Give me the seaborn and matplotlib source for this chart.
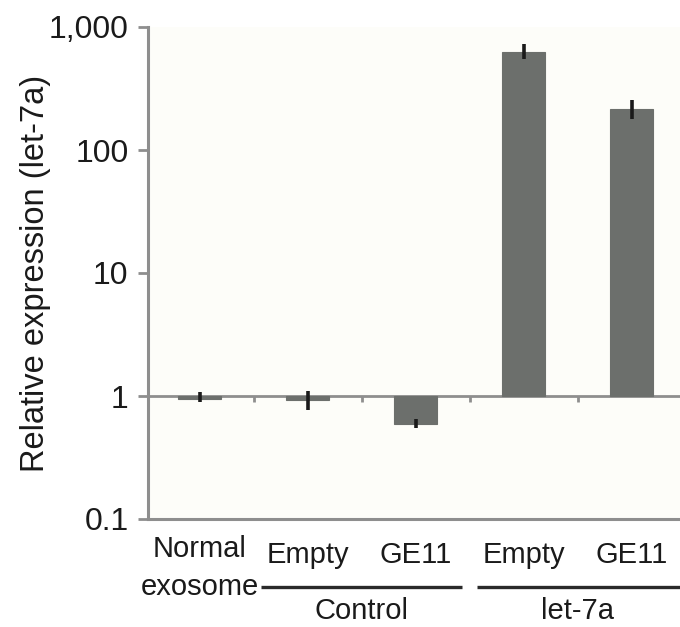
import numpy as np
import pandas as pd
import matplotlib
matplotlib.use("Agg")
import matplotlib.pyplot as plt
import matplotlib.transforms as mtransforms
import seaborn as sns

# ---- data ----
keys = ["Normal exosome", "Control Empty", "Control GE11", "let-7a Empty", "let-7a GE11"]
tick_labels = ["Normal\nexosome", "Empty", "GE11", "Empty", "GE11"]
groups = ["Control", "let-7a"]
group_members = [[1, 2], [3, 4]]
values = [0.95, 0.93, 0.59, 630, 216]
err_low = [0.89, 0.77, 0.55, 545, 177]
err_high = [1.08, 1.10, 0.65, 721, 253]
ytick_values = [0.1, 1, 10, 100, 1000]
ytick_labels = ["0.1", "1", "10", "100", "1,000"]
ylabel = "Relative expression (let-7a)"

sns.set_theme(style="white")
plt.rcParams["font.family"] = ["Liberation Sans", "DejaVu Sans"]

BAR = "#6c6f6c"
AXC = "#8e8e8e"
TXT = "#1a1a1a"

fig = plt.figure(figsize=(6.8, 6.27), dpi=100)
fig.patch.set_facecolor("white")
ax = fig.add_axes([148 / 680, 1 - 519 / 627, (680 - 148) / 680, (519 - 27) / 627])
ax.set_facecolor("#fdfdf9")

logv = np.log10(values)
df = pd.DataFrame({"key": keys, "logv": logv})
sns.barplot(data=df, x="key", y="logv", color=BAR, saturation=1, width=0.4,
            errorbar=None, ax=ax, zorder=3, edgecolor=BAR, linewidth=0.8)

xpos = np.arange(len(keys))
yerr = [logv - np.log10(err_low), np.log10(err_high) - logv]
ax.errorbar(xpos, logv, yerr=yerr, fmt="none", ecolor=TXT, elinewidth=2.6,
            capsize=0, zorder=4)

# baseline at 1 and separator ticks
ax.axhline(0, color=AXC, lw=2.0, zorder=2)
bounds = xpos[:-1] + 0.5
ax.vlines(bounds, -0.05, 0, color=AXC, lw=2.0, zorder=2)

ax.set_xlim(-0.48, -0.48 + 532 / 108)
ax.set_ylim(-1, 3)
ax.set_yticks(np.log10(ytick_values))
ax.set_yticklabels(ytick_labels, fontsize=23, color=TXT)
ax.set_xticks([])
ax.set_xlabel("")
ax.set_ylabel(ylabel, fontsize=23.5, color=TXT, labelpad=-2)

for s in ["top", "right"]:
    ax.spines[s].set_visible(False)
for s in ["left", "bottom"]:
    ax.spines[s].set_color(AXC)
    ax.spines[s].set_linewidth(2.2)
ax.tick_params(axis="y", which="major", left=True, length=7, width=2.0,
               color=AXC, pad=7)

trans = mtransforms.blended_transform_factory(ax.transData, fig.transFigure)
def yfig(py):
    return 1 - py / 627

for i, lab in enumerate(tick_labels):
    if "\n" in lab:
        l1, l2 = lab.split("\n")
        ax.text(i, yfig(549), l1, transform=trans, ha="center", va="center",
                fontsize=21, color=TXT)
        ax.text(i, yfig(587), l2, transform=trans, ha="center", va="center",
                fontsize=21, color=TXT)
    else:
        ax.text(i, yfig(555), lab, transform=trans, ha="center", va="center",
                fontsize=21, color=TXT)

# group lines and labels
for g, mem in zip(groups, group_members):
    x0 = mem[0] - 0.43
    x1 = mem[-1] + 0.43
    if mem[-1] == len(keys) - 1:
        x1 = mem[-1] + 0.6
    ax.plot([x0, x1], [yfig(587), yfig(587)], transform=trans, color="#2a2a2a",
            lw=2.4, clip_on=False, solid_capstyle="butt")
    ax.text((mem[0] + mem[-1]) / 2, yfig(611), g, transform=trans,
            ha="center", va="center", fontsize=21, color=TXT)

fig.savefig("out.png", dpi=100, facecolor="white")
